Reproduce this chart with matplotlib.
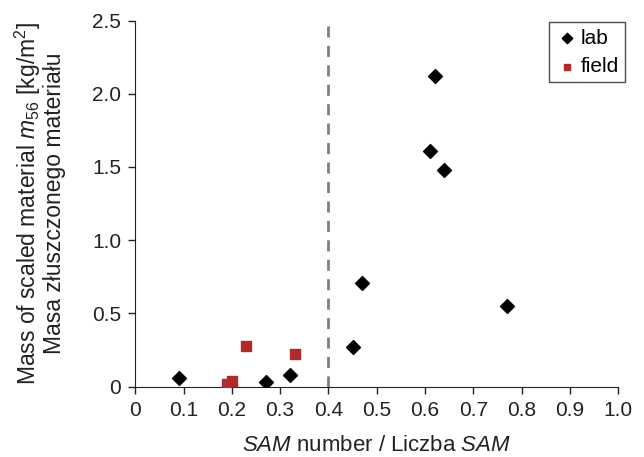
import matplotlib
matplotlib.use('Agg')
import matplotlib.pyplot as plt

plt.rcParams['font.family'] = ['Liberation Sans', 'DejaVu Sans']
plt.rcParams['mathtext.fontset'] = 'custom'
plt.rcParams['mathtext.rm'] = 'Liberation Sans'
plt.rcParams['mathtext.it'] = 'Liberation Sans:italic'

# --- dane ---
lab_x = [0.09, 0.27, 0.32, 0.45, 0.47, 0.61, 0.62, 0.64, 0.77]
lab_y = [0.06, 0.03, 0.08, 0.27, 0.71, 1.61, 2.12, 1.48, 0.55]
field_x = [0.19, 0.20, 0.23, 0.33]
field_y = [0.02, 0.04, 0.28, 0.22]
prog_sam = 0.4

x_ticks = [i / 10 for i in range(11)]
x_labels = ['0'] + [f'{v:.1f}' for v in x_ticks[1:]]
y_ticks = [0, 0.5, 1.0, 1.5, 2.0, 2.5]
y_labels = ['0', '0.5', '1.0', '1.5', '2.0', '2.5']

fig = plt.figure(figsize=(6.44, 4.57), dpi=100)
ax = fig.add_axes([0.21, 0.154, 0.75, 0.801])

ax.axvline(prog_sam, color='#808080', linestyle=(0, (4, 3)), linewidth=2, zorder=1)
ax.scatter(lab_x, lab_y, marker='D', s=50, color='black', label='lab', zorder=3)
ax.scatter(field_x, field_y, marker='s', s=45, color='#B02A2A', label='field', zorder=3)

ax.set_xlim(0, 1.0)
ax.set_ylim(0, 2.5)
ax.set_xticks(x_ticks)
ax.set_xticklabels(x_labels)
ax.set_yticks(y_ticks)
ax.set_yticklabels(y_labels)
ax.tick_params(labelsize=15, length=5, width=1, direction='out', colors='#222222', pad=5)
ax.spines['top'].set_visible(False)
ax.spines['right'].set_visible(False)
for s in ('left', 'bottom'):
    ax.spines[s].set_color('#222222')

ax.set_xlabel(r'$\it{SAM}$ number / Liczba $\it{SAM}$', fontsize=16, labelpad=11,
              color='#222222')
ax.set_ylabel('Mass of scaled material $m_{56}$ [kg/m$^2$]\nMasa złuszczonego materiału',
              fontsize=16.5, labelpad=19, linespacing=0.97, color='#222222')

leg = ax.legend(loc='upper right', fontsize=15, frameon=True, fancybox=False,
                edgecolor='#222222', handletextpad=0.05, borderpad=0.3,
                labelspacing=0.45, handlelength=1.2, markerscale=0.75,
                borderaxespad=0, bbox_to_anchor=(1.015, 0.995))
leg.get_frame().set_linewidth(1)

plt.savefig('out.png', dpi=100)
